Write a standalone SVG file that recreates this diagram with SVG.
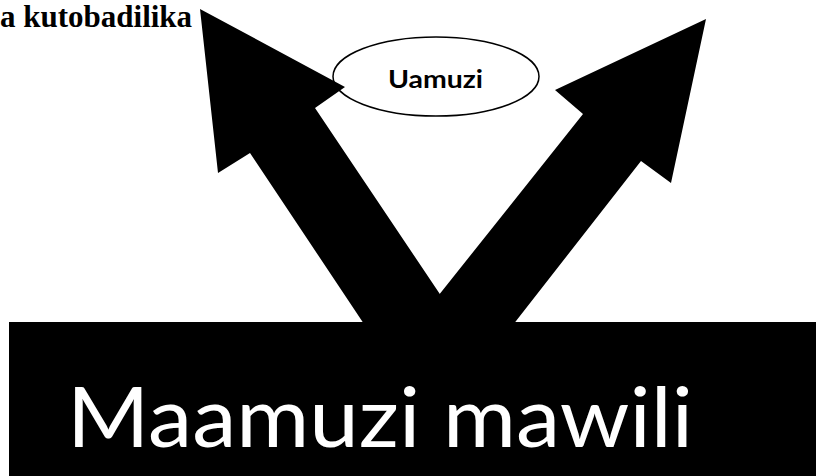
<svg xmlns="http://www.w3.org/2000/svg" width="816" height="476" viewBox="0 0 816 476">
<style>
.arrow{fill:#000;stroke:none}
.big{font-family:Lato,"Open Sans","Liberation Sans",sans-serif;fill:#fff}
.lbl{font-family:Lato,"Open Sans","Liberation Sans",sans-serif;font-weight:bold;fill:#000}
.serif{font-family:"Liberation Serif","Times New Roman",serif;font-weight:bold;fill:#000}
</style>
<rect width="816" height="476" fill="#fff"/>
<g id="node-uamuzi">
<ellipse cx="436" cy="76.5" rx="103" ry="39.5" fill="#fff" stroke="#000" stroke-width="1.5"/>
<text class="lbl" x="388" y="88" font-size="25" textLength="95" lengthAdjust="spacingAndGlyphs">Uamuzi</text>
</g>
<g id="connectors">
<polygon class="arrow" points="200,9 345,87 315,108 464,330 368,330 250,153 218,173"/>
<polygon class="arrow" points="706,19 671,183 641,161 509,330 411,330 583,114 555,90"/>
</g>
<g id="node-maamuzi">
<rect x="9" y="322" width="807" height="154" fill="#000"/>
<text class="big" x="67" y="447" font-size="84" textLength="626" lengthAdjust="spacingAndGlyphs">Maamuzi mawili</text>
</g>
<g id="node-kutobadilika">
<text class="serif" x="0" y="27" font-size="31">a kutobadilika</text>
</g>
</svg>
